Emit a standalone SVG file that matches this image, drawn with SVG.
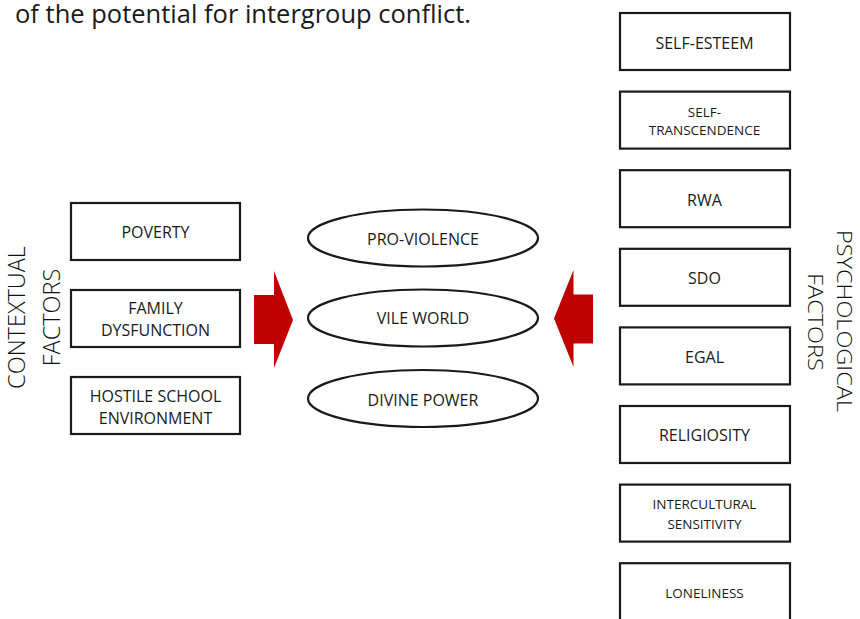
<svg xmlns="http://www.w3.org/2000/svg" width="860" height="619" viewBox="0 0 860 619">
  <style>
    .box { fill: #ffffff; stroke: #1a1a1a; stroke-width: 2.2; }
    .ell { fill: #ffffff; stroke: #1a1a1a; stroke-width: 2.2; }
    .lbl { font-family: "Open Sans", "Liberation Sans", sans-serif; font-size: 16px; fill: #1a1a1a; text-anchor: middle; }
    .sm { font-size: 13.5px; }
    .side { font-family: "Open Sans", "Liberation Sans", sans-serif; font-size: 23.5px; font-weight: 300; fill: #111111; text-anchor: middle; }
    .title { font-family: "Open Sans", "Liberation Sans", sans-serif; font-size: 25.5px; fill: #1a1a1a; }
    .arrow { fill: #c00000; stroke: none; }
  </style>
  <rect width="860" height="619" fill="#ffffff"/>

  <text class="title" x="15" y="22.5">of the potential for intergroup conflict.</text>

  <g id="label-contextual">
    <text class="side" transform="translate(25,317.5) rotate(-90)">CONTEXTUAL</text>
    <text class="side" transform="translate(60,317.5) rotate(-90)">FACTORS</text>
  </g>
  <g id="label-psychological">
    <text class="side" transform="translate(837,321) rotate(90) scale(1,0.82)">PSYCHOLOGICAL</text>
    <text class="side" transform="translate(808,322) rotate(90) scale(1,0.82)">FACTORS</text>
  </g>

  <g id="poverty"><rect class="box" x="71" y="203" width="169" height="57"/><text class="lbl" x="155.5" y="237.5">POVERTY</text></g>
  <g id="family-dysfunction"><rect class="box" x="71" y="290" width="169" height="57"/><text class="lbl" x="155.5" y="314">FAMILY</text><text class="lbl" x="155.5" y="336">DYSFUNCTION</text></g>
  <g id="hostile-school"><rect class="box" x="71" y="377" width="169" height="57"/><text class="lbl" x="155.5" y="401.5">HOSTILE SCHOOL</text><text class="lbl" x="155.5" y="423.5">ENVIRONMENT</text></g>

  <g id="pro-violence"><ellipse class="ell" cx="423" cy="238" rx="115" ry="28.5"/><text class="lbl" x="423" y="245">PRO-VIOLENCE</text></g>
  <g id="vile-world"><ellipse class="ell" cx="423" cy="318" rx="115" ry="28.5"/><text class="lbl" x="423" y="324">VILE WORLD</text></g>
  <g id="divine-power"><ellipse class="ell" cx="423" cy="398.5" rx="115" ry="28.5"/><text class="lbl" x="423" y="405.5">DIVINE POWER</text></g>

  <g id="self-esteem"><rect class="box" x="620" y="13" width="170" height="57"/><text class="lbl" x="704.5" y="48.5">SELF-ESTEEM</text></g>
  <g id="self-transcendence"><rect class="box" x="620" y="91.6" width="170" height="57"/><text class="lbl sm" x="704.5" y="116.5">SELF-</text><text class="lbl sm" x="704.5" y="135">TRANSCENDENCE</text></g>
  <g id="rwa"><rect class="box" x="620" y="170.2" width="170" height="57"/><text class="lbl" x="704.5" y="205.5">RWA</text></g>
  <g id="sdo"><rect class="box" x="620" y="248.8" width="170" height="57"/><text class="lbl" x="704.5" y="284">SDO</text></g>
  <g id="egal"><rect class="box" x="620" y="327.4" width="170" height="57"/><text class="lbl" x="704.5" y="363">EGAL</text></g>
  <g id="religiosity"><rect class="box" x="620" y="406" width="170" height="57"/><text class="lbl" x="704.5" y="440.5">RELIGIOSITY</text></g>
  <g id="intercultural-sensitivity"><rect class="box" x="620" y="484.6" width="170" height="57"/><text class="lbl sm" x="704.5" y="508.5">INTERCULTURAL</text><text class="lbl sm" x="704.5" y="529">SENSITIVITY</text></g>
  <g id="loneliness"><rect class="box" x="620" y="563.2" width="170" height="60"/><text class="lbl sm" x="704.5" y="598">LONELINESS</text></g>

  <g id="connectors">
    <polygon class="arrow" points="254,295 274,295 274,271 293,320 274,368 274,344 254,344"/>
    <polygon class="arrow" points="593,294.5 573.5,294.5 573.5,270 554,318.5 573.5,367 573.5,343.5 593,343.5"/>
  </g>
</svg>
